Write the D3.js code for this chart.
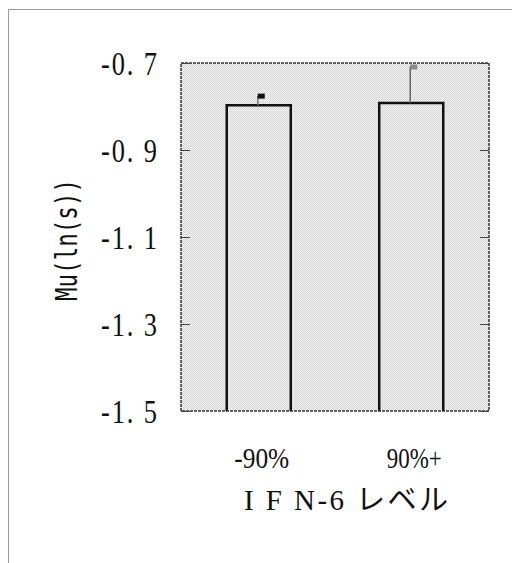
<!DOCTYPE html>
<html>
<head>
<meta charset="utf-8">
<script src="https://cdn.jsdelivr.net/npm/d3@7"></script>
<style>
  body { margin: 0; background: #fff; }
  svg { display: block; }
</style>
</head>
<body>
<div id="chart"></div>
<script>
const categories = ['-90%', '90%+']
const means = [-0.797, -0.792]
const errTops = [-0.775, -0.708]
const yTicks = [-1.5, -1.3, -1.1, -0.9, -0.7]
const yTickLabels = ['-1. 5', '-1. 3', '-1. 1', '-0. 9', '-0. 7']

const W = 512
const H = 563
const margin = { top: 63, right: 23, bottom: 152, left: 181 }
const width = W - margin.left - margin.right
const height = H - margin.top - margin.bottom
const serif = '"Liberation Serif", "DejaVu Serif", serif'

const raw = d3.select('#chart')
  .append('svg')
  .attr('width', W)
  .attr('height', H)

// checker stipple like the scanned screen tone
const defs = raw.append('defs')
const pat = defs.append('pattern')
  .attr('id', 'tone')
  .attr('width', 2)
  .attr('height', 2)
  .attr('patternUnits', 'userSpaceOnUse')
pat.append('rect').attr('width', 2).attr('height', 2).attr('fill', '#f2f2f2')
pat.append('rect').attr('width', 1).attr('height', 1).attr('fill', '#d6d6d6')
pat.append('rect').attr('x', 1).attr('y', 1).attr('width', 1).attr('height', 1).attr('fill', '#d6d6d6')

// outer frame (left and top edges of the scanned page)
raw.append('path')
  .attr('d', `M8.5,${H}V9.5H${W}`)
  .attr('fill', 'none')
  .attr('stroke', '#999')
  .attr('stroke-width', 1)

const svg = raw.append('g')
  .attr('transform', `translate(${margin.left},${margin.top})`)

const xs = d3.scaleBand()
  .domain(categories)
  .range([0, width])
  .paddingInner(0.58)
  .paddingOuter(0.3)

const ys = d3.scaleLinear()
  .domain([-1.5, -0.7])
  .range([height, 0])

// plot background
svg.append('rect')
  .attr('width', width)
  .attr('height', height)
  .attr('fill', 'url(#tone)')

// bars
svg.selectAll('.bar')
  .data(categories)
  .enter()
  .append('path')
  .classed('bar', true)
  .attr('d', (d, i) => `M${xs(d)},${height}V${ys(means[i])}H${xs(d) + xs.bandwidth()}V${height}`)
  .attr('fill', 'url(#tone)')
  .attr('stroke', '#111')
  .attr('stroke-width', 2.5)

// error bars
svg.selectAll('.err')
  .data(categories)
  .enter()
  .append('path')
  .classed('err', true)
  .attr('d', (d, i) => `M${xs(d) + xs.bandwidth() / 2 - 1},${ys(means[i])}V${ys(errTops[i])}`)
  .attr('stroke', (d, i) => i === 0 ? '#777' : '#666')
  .attr('stroke-width', 1.5)
svg.selectAll('.cap')
  .data(categories)
  .enter()
  .append('rect')
  .classed('cap', true)
  .attr('x', (d) => xs(d) + xs.bandwidth() / 2 - 1)
  .attr('y', (d, i) => ys(errTops[i]) - 2)
  .attr('width', 7)
  .attr('height', 5)
  .attr('fill', (d, i) => i === 0 ? '#111' : '#888')

// plot border (dotted, like the scan)
svg.append('rect')
  .attr('width', width)
  .attr('height', height)
  .attr('fill', 'none')
  .attr('stroke', '#333')
  .attr('stroke-width', 1.5)
  .attr('stroke-dasharray', '3 1')

// y axis ticks, inside on both sides
const yAxis = svg.append('g')
  .call(d3.axisLeft(ys).tickValues(yTicks).tickSize(-9).tickFormat((d, i) => yTickLabels[i]))
yAxis.select('.domain').remove()
yAxis.selectAll('.tick line').attr('stroke', '#444')
yAxis.selectAll('.tick text')
  .attr('font-family', serif)
  .attr('font-size', 33)
  .attr('fill', '#111')
  .attr('transform', 'scale(0.8,1)')
  .attr('x', -24 / 0.8)
  .attr('dy', '0.34em')
  .attr('textLength', 56 / 0.8)
  .attr('lengthAdjust', 'spacing')
const yAxisR = svg.append('g')
  .attr('transform', `translate(${width},0)`)
  .call(d3.axisRight(ys).tickValues(yTicks).tickSize(-9).tickFormat(''))
yAxisR.select('.domain').remove()
yAxisR.selectAll('.tick line').attr('stroke', '#444')

// x labels
const xAxis = svg.append('g')
  .attr('transform', `translate(0,${height})`)
  .call(d3.axisBottom(xs).tickSize(0))
xAxis.select('.domain').remove()
xAxis.selectAll('.tick text')
  .attr('font-family', serif)
  .attr('font-size', 29)
  .attr('fill', '#111')
  .attr('x', 3)
  .attr('y', 57)
  .attr('dy', 0)
  .attr('textLength', 55)
  .attr('lengthAdjust', 'spacingAndGlyphs')

// axis titles
svg.append('text')
  .attr('x', 244 - margin.left)
  .attr('y', height + 99)
  .attr('font-family', serif + ', "Noto Sans CJK JP"')
  .attr('font-size', 29)
  .attr('fill', '#111')
  .attr('textLength', 204)
  .attr('lengthAdjust', 'spacing')
  .text('I F N-6 レベル')
svg.append('text')
  .attr('transform', 'rotate(-90)')
  .attr('x', -(ys(-1.1) + 3))
  .attr('y', 77 - margin.left)
  .style('text-anchor', 'middle')
  .attr('font-family', '"DejaVu Sans Mono", "Liberation Mono", monospace')
  .attr('font-size', 30)
  .attr('fill', '#111')
  .attr('textLength', 122)
  .attr('lengthAdjust', 'spacingAndGlyphs')
  .text('Mu(ln(s))')
</script>
</body>
</html>
